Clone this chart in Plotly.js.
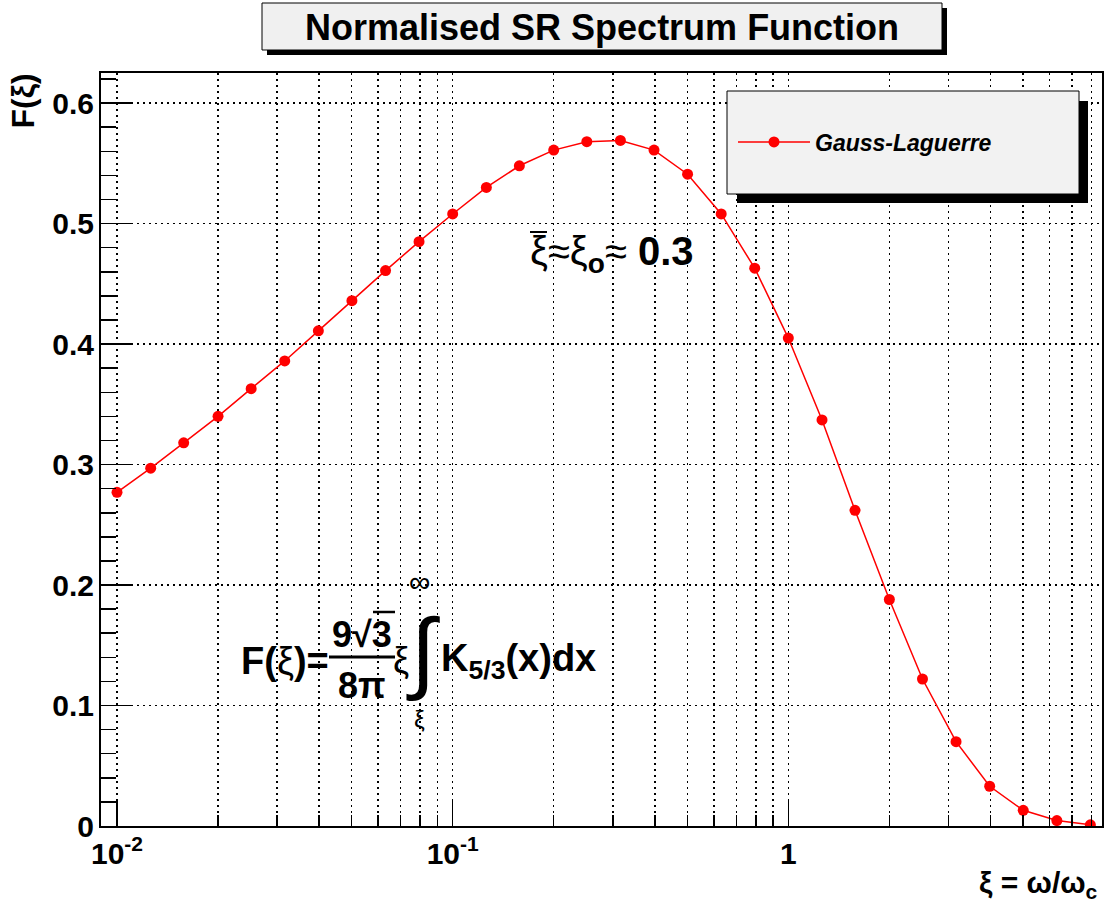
<!DOCTYPE html>
<html>
<head>
<meta charset="utf-8">
<script src="https://cdn.plot.ly/plotly-3.0.1.min.js"></script>
<style>html,body{margin:0;padding:0;background:#fff;}#chart{width:1106px;height:910px;}</style>
</head>
<body>
<div id="chart"></div>
<script>
// ---- data ----
const xi = [0.01,0.0126,0.0158,0.02,0.0251,0.0316,0.0398,0.0501,0.0631,0.0794,
            0.1,0.126,0.158,0.2,0.251,0.316,0.398,0.501,0.631,0.794,
            1,1.26,1.58,2,2.51,3.16,3.98,5.01,6.31,7.94];
const F = [0.277,0.297,0.318,0.340,0.363,0.386,0.411,0.436,0.461,0.485,
           0.508,0.530,0.548,0.561,0.568,0.569,0.561,0.541,0.508,0.463,
           0.405,0.337,0.262,0.188,0.122,0.070,0.033,0.013,0.0045,0.001];
const seriesName = 'Gauss-Laguerre';
const xTickVals = [0.01, 0.1, 1];
const xTickText = ['10<sup>-2</sup>', '10<sup>-1</sup>', '1'];
const xMinorVals = [0.02,0.03,0.04,0.05,0.06,0.07,0.08,0.09,
                    0.2,0.3,0.4,0.5,0.6,0.7,0.8,0.9,
                    2,3,4,5,6,7,8];
const titleText = 'Normalised SR Spectrum Function';

// ---- layout helpers (pixel -> paper) ----
const W = 1106, H = 910;
const L = 101, R = 1102, T = 73, B = 826;
const px = x => (x - L) / (R - L);
const py = y => (B - y) / (B - T);
const FONT = 'Liberation Sans, Arial, Helvetica, sans-serif';

const trace = {
  x: xi, y: F, type: 'scatter', mode: 'lines+markers', name: seriesName,
  line: {color: '#ff0000', width: 1.5},
  marker: {color: '#ff0000', size: 11, symbol: 'circle'}
};

function rect(x0, y0, x1, y1, fill, lw) {
  return {type: 'rect', xref: 'paper', yref: 'paper',
          x0: px(x0), x1: px(x1), y0: py(y1), y1: py(y0),
          fillcolor: fill, line: {color: '#000', width: lw}, layer: 'above'};
}
function hline(x0, x1, y, w) {
  return {type: 'line', xref: 'paper', yref: 'paper',
          x0: px(x0), x1: px(x1), y0: py(y), y1: py(y),
          line: {color: '#000', width: w}, layer: 'above'};
}
function ann(text, x, y, size, opts) {
  return Object.assign({
    text: text, xref: 'paper', yref: 'paper', x: px(x), y: py(y),
    showarrow: false, xanchor: 'center', yanchor: 'middle',
    font: {family: FONT, size: size, color: '#000', weight: 'bold'}
  }, opts || {});
}
const normal = size => ({family: FONT, size: size, color: '#000', weight: 'normal'});

const shapes = [
  // title box + shadow
  rect(267, 8, 947, 55, '#000', 0),
  rect(262, 3, 942, 50, '#f0f0f0', 1),
  // legend box + shadow
  rect(737, 101, 1088, 203, '#000', 0),
  rect(727, 91, 1079, 194, '#f2f2f2', 1),
  // formula fraction bar and radical bar
  hline(329, 395, 657, 3),
  hline(373, 395, 612, 2.5),
  // mean bar over first xi of the peak note
  hline(530, 547, 232, 2)
];

const annotations = [
  ann(titleText, 602, 27, 36),
  // axis titles
  ann('ξ = ω/ω<sub>c</sub>', 1100, 884, 30, {xanchor: 'right'}),
  ann('F(ξ)', 22, 72, 32, {textangle: -90, yanchor: 'top'}),
  // peak annotation
  ann('ξ≈ξ<sub><b>o</b></sub>≈\u00a0<b>0.3</b>', 528, 254, 40, {xanchor: 'left', font: normal(40)}),
  // formula
  ann('F(<span style="font-weight:normal">ξ</span>)=', 331, 661, 38, {xanchor: 'right'}),
  ann('9√3', 362, 634, 36),
  ann('8π', 362, 685, 36),
  ann('ξ', 401, 660, 36, {font: normal(36)}),
  ann('∫', 423, 651, 90, {font: normal(90)}),
  ann('∞', 419, 581, 30, {font: normal(30)}),
  ann('ξ', 419, 719, 24, {font: normal(24)}),
  ann('K<sub>5/3</sub>(x)dx', 439, 661, 38, {xanchor: 'left'})
];

const layout = {
  width: W, height: H,
  margin: {l: L, r: W - R, t: T, b: H - B, pad: 0},
  paper_bgcolor: '#fff', plot_bgcolor: '#fff',
  font: {family: FONT, color: '#000', weight: 'bold'},
  showlegend: true,
  legend: {
    x: px(733), y: py(142), xanchor: 'left', yanchor: 'middle',
    bgcolor: 'rgba(0,0,0,0)', borderwidth: 0,
    font: {family: FONT, size: 23, color: '#000', weight: 'bold', style: 'italic'},
    itemwidth: 72
  },
  xaxis: {
    type: 'log', range: [Math.log10(0.00896), Math.log10(8.6)],
    tickmode: 'array', tickvals: xTickVals, ticktext: xTickText,
    ticks: 'inside', ticklen: 26, tickwidth: 1.5, tickcolor: '#000',
    tickfont: {family: FONT, size: 30, color: '#000', weight: 'bold'},
    showgrid: true, gridcolor: '#000', gridwidth: 1.5, griddash: '2px,4px',
    minor: {tickmode: 'array', tickvals: xMinorVals, ticks: 'inside', ticklen: 11,
            tickwidth: 1.5, tickcolor: '#000', showgrid: true,
            gridcolor: '#000', gridwidth: 1.5, griddash: '2px,4px'},
    showline: true, linecolor: '#000', linewidth: 2, mirror: true,
    zeroline: false, fixedrange: true
  },
  yaxis: {
    range: [0, 0.625], dtick: 0.1, tick0: 0,
    ticks: 'inside', ticklen: 30, tickwidth: 1.5, tickcolor: '#000',
    tickfont: {family: FONT, size: 30, color: '#000', weight: 'bold'},
    ticklabelstandoff: -1,
    showgrid: true, gridcolor: '#000', gridwidth: 1.5, griddash: '2px,4px',
    minor: {dtick: 0.02, ticks: 'inside', ticklen: 15, tickwidth: 1.5,
            tickcolor: '#000', showgrid: false},
    showline: true, linecolor: '#000', linewidth: 2, mirror: true,
    zeroline: false, fixedrange: true
  },
  shapes: shapes,
  annotations: annotations
};

Plotly.newPlot('chart', [trace], layout, {displayModeBar: false, staticPlot: true});
</script>
</body>
</html>
